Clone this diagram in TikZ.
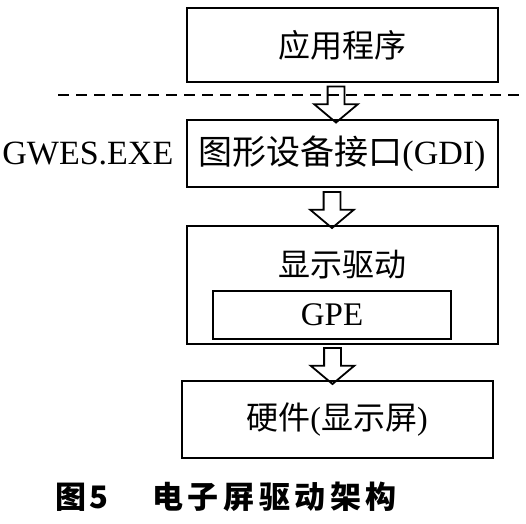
\documentclass[tikz,border=0pt]{standalone}
\usepackage{fontspec}
\setmainfont{Liberation Serif}
\newfontfamily\cjk{Noto Sans CJK SC}
\usepackage{tikz}
\usetikzlibrary{shapes,arrows,positioning,calc}

\begin{document}
\begin{tikzpicture}[
    node distance=36pt,
    layer/.style={rectangle, draw=black, line width=2pt, minimum width=311pt, text centered, inner sep=0pt, font=\fontsize{32}{36}\selectfont},
    inner layer/.style={rectangle, draw=black, line width=2pt, minimum width=238pt, minimum height=48pt, inner sep=0pt, font=\fontsize{33}{36}\selectfont},
    blockarrow/.style={single arrow, draw=black, line width=1.8pt, inner xsep=0pt, inner ysep=7.5pt, single arrow head extend=13.5pt, single arrow tip angle=100, minimum height=36pt, rotate=-90},
    side/.style={inner sep=0pt, font=\fontsize{34}{36}\selectfont},
    caption/.style={inner sep=0pt, font=\fontsize{31}{34}\selectfont\cjk\bfseries}
]
\useasboundingbox (0,0) rectangle (526pt,-523pt);

% Layers
\node [layer, minimum height=74pt] (app) at (342pt,-45pt) {\cjk 应用程序};
\node [layer, minimum height=67pt, below=36pt of app, font=\fontsize{34}{36}\selectfont] (gdi) {{\cjk 图形设备接口}(GDI)};
\node [layer, minimum height=118pt, below=37pt of gdi] (driver) {};
\node [layer, minimum height=77pt, below=35pt of driver, xshift=-5pt] (hardware) {{\cjk 硬件}({\cjk 显示屏})};

% Inside the driver
\node [inner sep=0pt, font=\fontsize{32}{36}\selectfont] (drvtext) at ([yshift=-40pt]driver.north) {\cjk 显示驱动};
\node [inner layer, above=5pt of driver.south, xshift=-10pt] (gpe) {GPE};

% Process label
\node [side, left=12pt of gdi] (gwes) {GWES.EXE};

% Block arrows
\node [blockarrow] (arr1) at ($(app.south)!0.5!(gdi.north)+(-6pt,0)$) {};
\node [blockarrow] (arr2) at ($(gdi.south)!0.5!(driver.north)+(-10pt,0)$) {};
\node [blockarrow] (arr3) at ($(driver.south)!0.5!(hardware.north)+(-7pt,0)$) {};

% User / kernel border
\draw [line width=2pt, dash pattern=on 11pt off 7pt] (58pt,-95pt) -- (526pt,-95pt);

% Caption
\node [caption, anchor=west] (title) at (55pt,-497pt) {\addfontfeature{LetterSpace=15}图\hspace{3pt}5\hspace{44pt}电子屏驱动架构};

\end{tikzpicture}
\end{document}
